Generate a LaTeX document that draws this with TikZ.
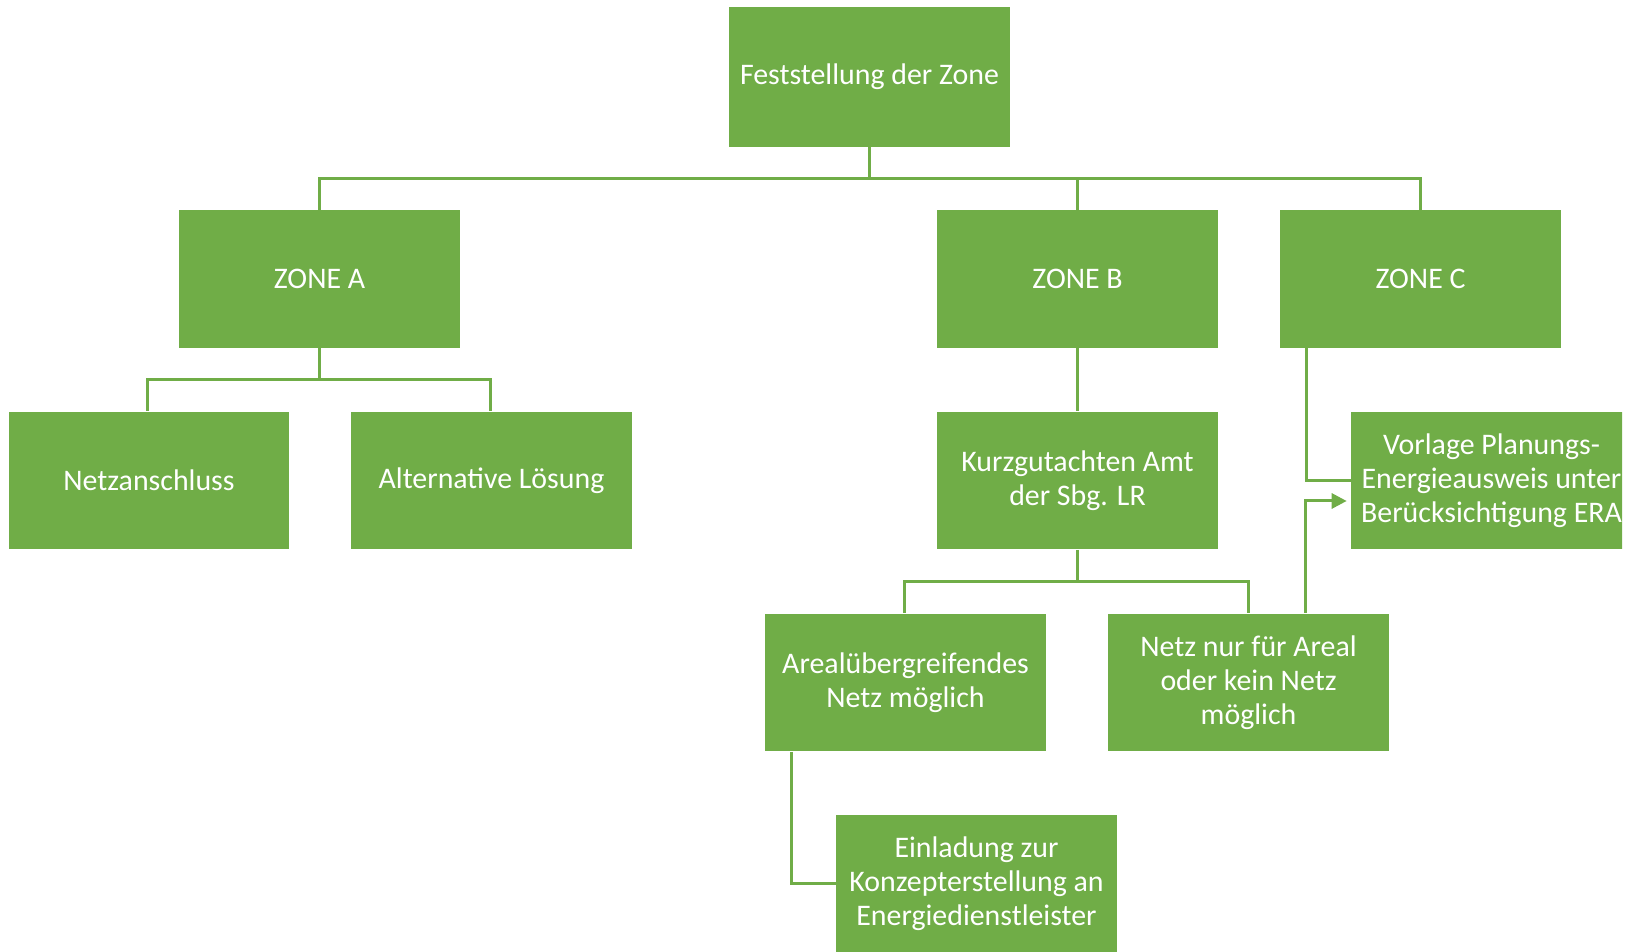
\documentclass[tikz,border=0pt]{standalone}
\usepackage{fontspec}
\setmainfont{Carlito}
\usetikzlibrary{arrows.meta,calc}
\definecolor{zonegreen}{HTML}{70AD47}

\begin{document}
\begin{tikzpicture}[x=0.02cm, y=-0.02cm, line cap=butt, line join=miter, >={Triangle[length=0.3cm,width=0.3cm]}]
\tikzset{box/.style={fill=zonegreen, text=white, minimum width=5.62cm, minimum height=2.76cm,
    inner sep=0pt, align=center, font=\fontsize{17}{19.2}\selectfont},
  link/.style={draw=zonegreen, line width=0.06cm}}

\useasboundingbox (0,0) rectangle (1632,952);

% boxes (px)
\node[box, minimum height=2.8cm] (root) at ( 869.5, 77) {Feststellung der Zone};
\node[box] (zoneA) at ( 319.5,279) {ZONE A};
\node[box] (zoneB) at (1077.5,279) {ZONE B};
\node[box] (zoneC) at (1420.5,279) {ZONE C};
\node[box] (netz)  at ( 149,480.5) {Netzanschluss};
\node[box] (alt)   at ( 491.5,480.5) {Alternative Lösung};
\node[box] (kurz)  at (1077.5,480.5) {Kurzgutachten Amt\\der Sbg. LR};
\begin{scope}
  \clip (0,0) rectangle (1622,952);
  \node[box] (vorlage) at (1491.5,480.5) {Vorlage Planungs-\\Energieausweis unter\\Berücksichtigung ERA};
\end{scope}
\node[box] (areal)   at ( 905.5,682.5) {Arealübergreifendes\\Netz möglich};
\node[box] (nurareal) at (1248.5,682.5) {Netz nur für Areal\\oder kein Netz\\möglich};
\node[box] (einl)    at ( 976.5,883.5) {Einladung zur\\Konzepterstellung an\\Energiedienstleister};

% links
\draw[link] (root.south) -- ++(0,31) coordinate (busTop) -| (zoneA.north);
\draw[link] (busTop) -| (zoneB.north);
\draw[link] (busTop) -| (zoneC.north);
\draw[link] (zoneA.south) -- ++(0,31) coordinate (busA) -| ([xshift=-0.04cm]netz.north);
\draw[link] (busA) -| ([xshift=-0.03cm]alt.north);
\draw[link] (zoneB.south) -- (kurz.north);
\draw[link] (kurz.south) -- ++(0,32) coordinate (busB) -| ([xshift=-0.03cm]areal.north);
\draw[link] (busB) -| (nurareal.north);
\draw[link] ([xshift=0.54cm]zoneC.south west) |- (vorlage.west);
\draw[link, ->] ([xshift=1.13cm]nurareal.north) |- ([yshift=-0.41cm, xshift=-0.08cm]vorlage.west);
\draw[link] ([xshift=0.54cm]areal.south west) |- (einl.west);
\end{tikzpicture}
\end{document}
